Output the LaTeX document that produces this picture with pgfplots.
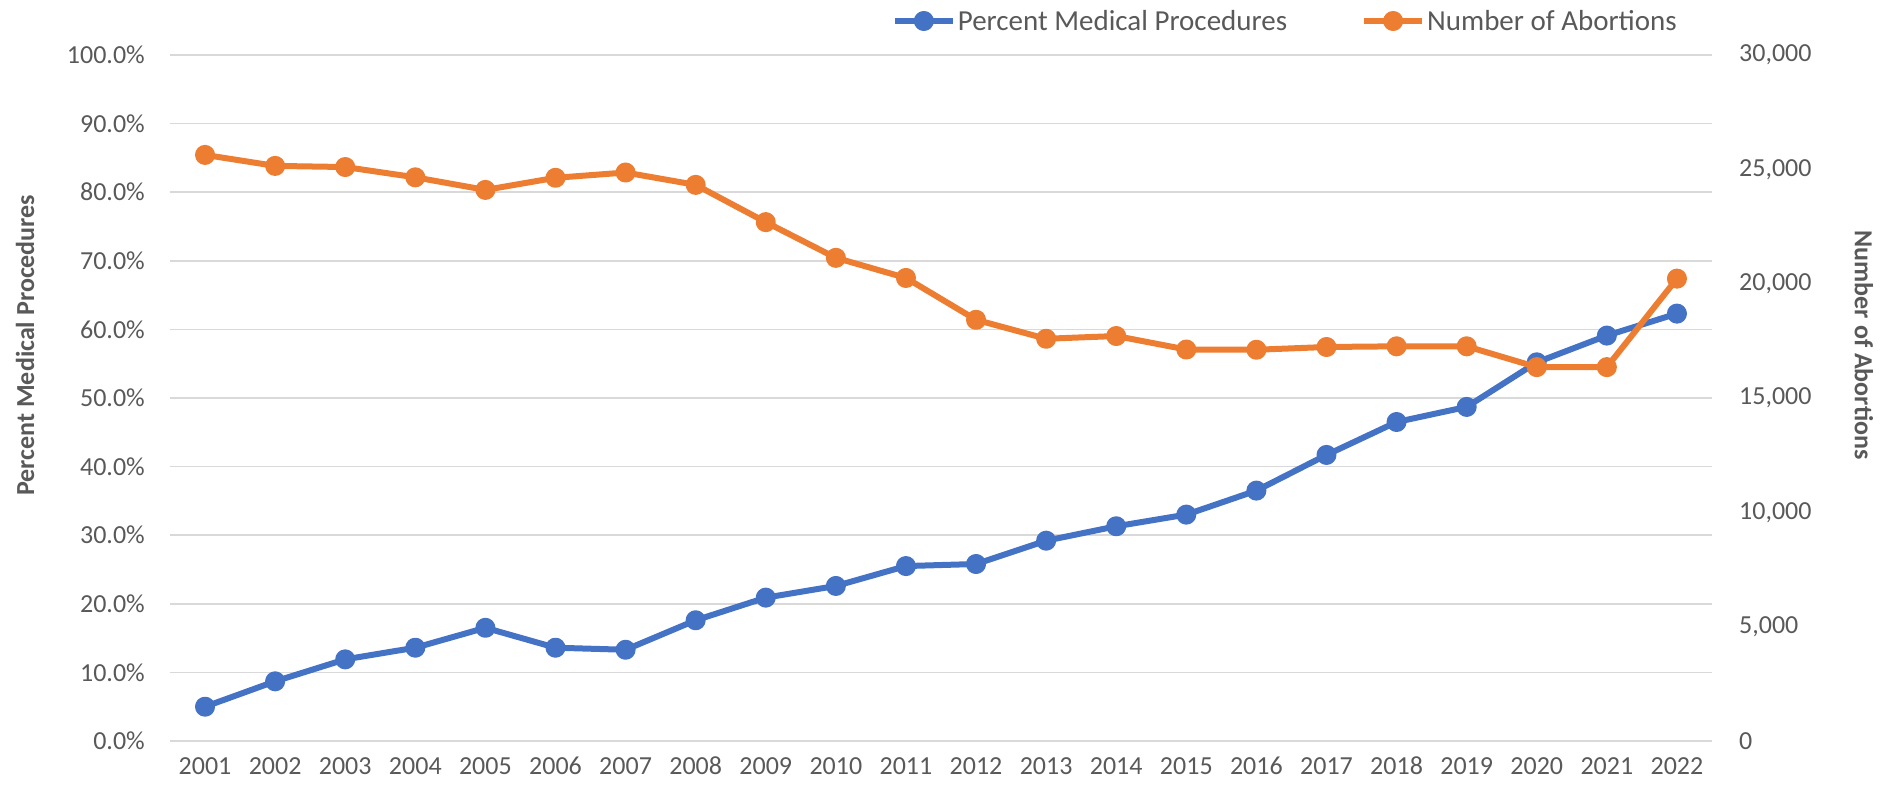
\documentclass[border=0pt]{standalone}
\usepackage{pgfplots}
\usepackage{pgfplotstable}
\pgfplotsset{compat=1.18}
\usepackage{fontspec}
\setmainfont{Carlito}
\definecolor{blueS}{HTML}{4472C4}
\definecolor{orangeS}{HTML}{ED7D31}
\definecolor{gridc}{HTML}{D9D9D9}
\definecolor{txt}{HTML}{595959}

\pgfplotstableread{
x pct
0 5.0
1 8.7
2 11.9
3 13.6
4 16.5
5 13.6
6 13.3
7 17.6
8 20.9
9 22.6
10 25.5
11 25.8
12 29.2
13 31.3
14 33.0
15 36.5
16 41.7
17 46.5
18 48.7
19 55.2
20 59.1
21 62.3
}\pcttable

\pgfplotstableread{
x num
0 25630
1 25150
2 25100
3 24650
4 24100
5 24630
6 24860
7 24320
8 22690
9 21130
10 20250
11 18420
12 17590
13 17710
14 17120
15 17110
16 17230
17 17260
18 17260
19 16350
20 16350
21 20220
}\numtable

\begin{document}
\begin{tikzpicture}
\pgfplotsset{
  common/.style={
    width=1542pt, height=686pt, scale only axis,
    xmin=-0.5, xmax=21.5,
    axis line style={draw=none},
    major tick length=0pt,
    tick style={draw=none},
    font=\fontsize{26}{30}\selectfont,
    every tick label/.append style={text=txt, inner sep=0pt, font=\fontsize{26}{30}\selectfont},
    clip=false,
  },
  serie/.style={line width=6pt, mark=*, mark size=7pt, mark options={solid}, line join=round},
}
\begin{axis}[common,
  ymin=0, ymax=100,
  ytick={0,10,20,30,40,50,60,70,80,90,100},
  yticklabels={0.0\%,10.0\%,20.0\%,30.0\%,40.0\%,50.0\%,60.0\%,70.0\%,80.0\%,90.0\%,100.0\%},
  yticklabel style={anchor=east, xshift=-25pt},
  xtick={0,...,21},
  xticklabels={2001,2002,2003,2004,2005,2006,2007,2008,2009,2010,2011,2012,2013,2014,2015,2016,2017,2018,2019,2020,2021,2022},
  xticklabel style={anchor=center, yshift=-25pt},
  ymajorgrids, grid style={gridc, line width=1.5pt},
  ylabel={Percent Medical Procedures},
  every axis y label/.style={at={(axis description cs:-0.0940,0.577)}, rotate=90, anchor=center, font=\bfseries\fontsize{26}{30}\selectfont, text=txt},
]
\addplot[serie, blueS] table[x=x, y=pct] {\pcttable};
\end{axis}
\begin{axis}[common,
  ymin=0, ymax=30000,
  scaled y ticks=false,
  axis y line*=right, axis x line=none,
  ytick={0,5000,10000,15000,20000,25000,30000},
  yticklabels={0,{5,000},{10,000},{15,000},{20,000},{25,000},{30,000}},
  yticklabel style={anchor=west, xshift=27pt},
  xtick=\empty,
  ylabel={Number of Abortions},
  every axis y label/.style={at={(axis description cs:1.0986,0.577)}, rotate=-90, anchor=center, font=\bfseries\fontsize{26}{30}\selectfont, text=txt},
  legend columns=2,
  legend style={draw=none, fill=none, at={(axis description cs:0.468,1)}, anchor=west, yshift=34pt, inner sep=0pt,
    font=\fontsize{29}{33}\selectfont, text=txt,
    nodes={inner sep=2pt},
    /tikz/every even column/.append style={column sep=72pt}},
  legend image code/.code={\draw[#1, mark repeat=2, mark phase=2] plot coordinates {(0pt,0pt) (29pt,0pt) (58pt,0pt)};},
]
\addlegendimage{serie, blueS}
\addlegendentry{Percent Medical Procedures}
\addplot[serie, orangeS] table[x=x, y=num] {\numtable};
\addlegendentry{Number of Abortions}
\end{axis}
\pgfresetboundingbox
\useasboundingbox (-170pt,-48pt) rectangle (1711pt,741pt);
\end{tikzpicture}
\end{document}
